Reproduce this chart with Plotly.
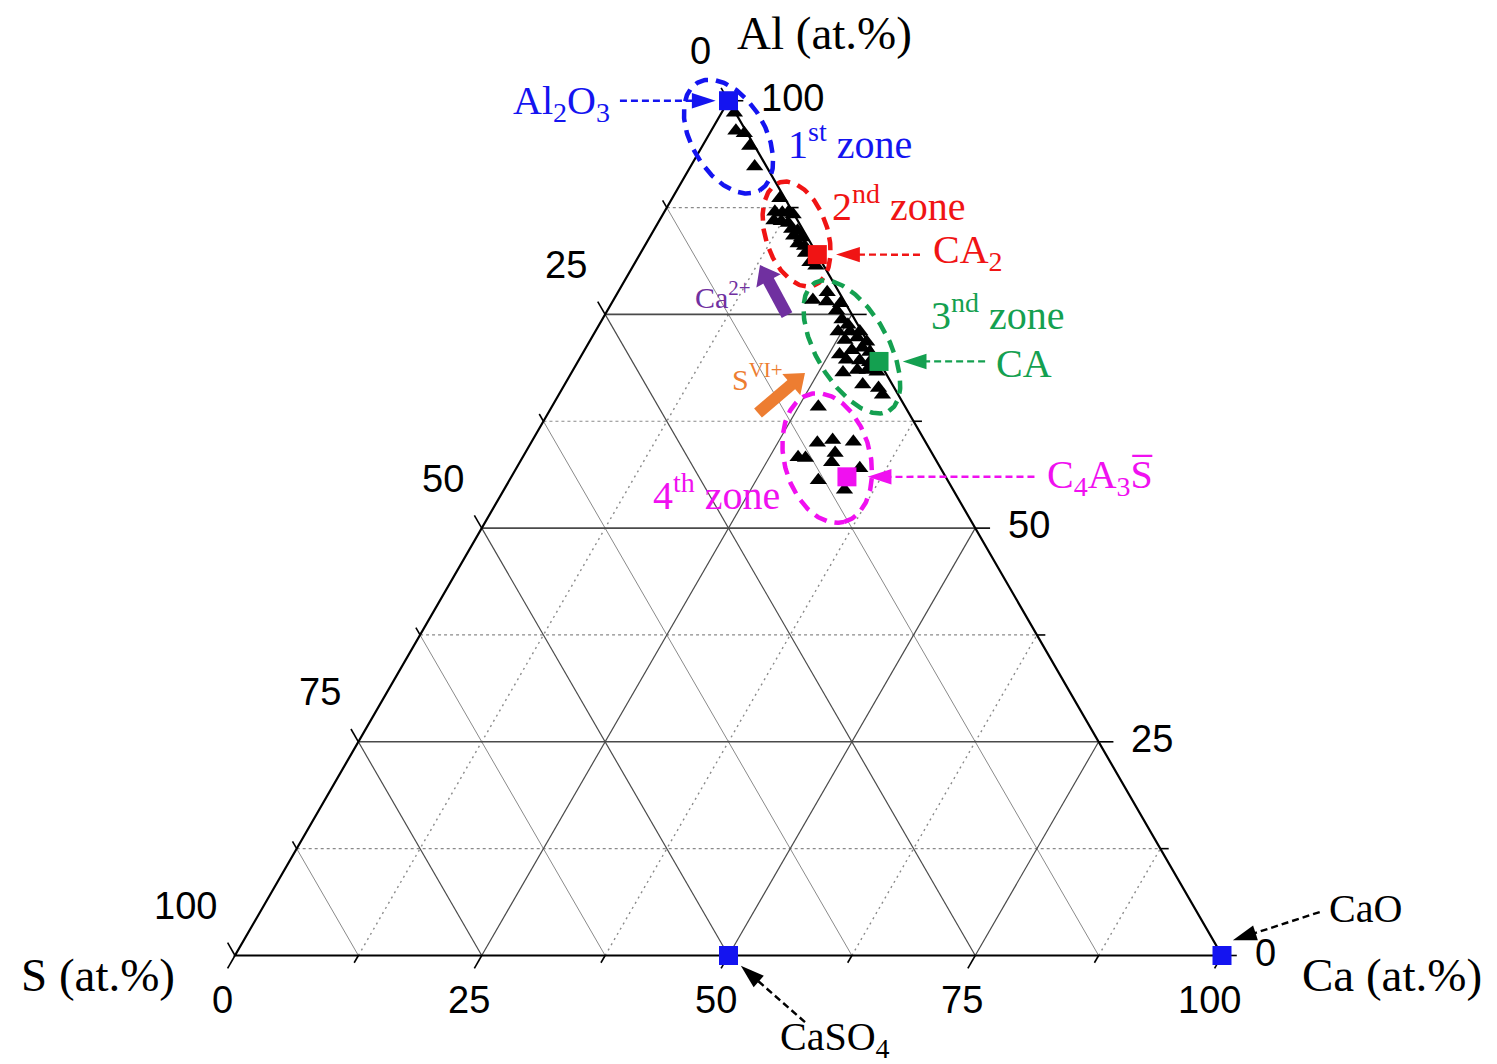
import numpy as np
import plotly.graph_objects as go

# ---------------- measured compositions (at.%) ----------------
# black triangles, grouped by zone: Al, S, Ca
zone1_al = [98.6, 96.5, 96.2, 94.7, 92.3]
zone1_s = [0.1, 1.0, 0.3, 0.5, 1.2]
zone1_ca = [1.3, 2.5, 3.5, 4.8, 6.5]

zone2_al = [88.6, 87.0, 86.9, 87.0, 86.7, 86.0, 85.9, 85.7, 85.0, 84.8, 84.2, 84.0, 83.3, 83.0, 82.2, 81.1, 80.7]
zone2_s = [0.5, 1.8, 1.1, 0.4, 0.1, 2.4, 1.7, 1.1, 1.1, 0.6, 1.3, 0.6, 1.3, 0.8, 1.1, 1.2, 0.8]
zone2_ca = [10.9, 11.2, 12.0, 12.6, 13.2, 11.6, 12.4, 13.2, 13.9, 14.6, 14.5, 15.4, 15.4, 16.2, 16.7, 17.7, 18.5]

zone3_al = [77.6, 76.7, 76.5, 76.3, 75.5, 74.4, 73.8, 73.0, 73.0, 73.0, 72.0, 72.3, 71.8, 70.3,
            70.8, 71.1, 70.6, 69.7, 69.6, 69.4, 68.2, 68.5, 68.5, 68.3, 66.8, 66.4, 65.6]
zone3_s = [1.2, 3.1, 1.8, 0.5, 1.3, 1.3, 1.0, 2.4, 1.2, 0.2, 2.2, 0.8, 0.1, 3.6,
           2.1, 0.9, 0.4, 3.2, 1.9, 1.0, 4.3, 2.7, 1.7, 0.8, 3.0, 1.6, 1.6]
zone3_ca = [21.2, 20.2, 21.7, 23.2, 23.2, 24.3, 25.2, 24.6, 25.8, 26.8, 25.8, 26.9, 28.1, 26.1,
            27.1, 28.0, 29.0, 27.1, 28.5, 29.6, 27.5, 28.8, 29.8, 30.9, 30.2, 32.0, 32.8]

zone4_al = [64.2, 60.0, 60.3, 60.1, 58.3, 58.2, 58.8, 57.7, 57.0, 55.6, 54.5]
zone4_s = [8.8, 11.0, 9.3, 7.3, 13.8, 13.1, 9.8, 10.7, 8.2, 13.1, 11.0]
zone4_ca = [27.0, 29.0, 30.4, 32.6, 27.9, 28.7, 31.4, 31.6, 34.8, 31.3, 34.5]

# reference phases
phase_names = ["Al2O3", "CA2", "CA", "C4A3S", "CaSO4", "CaO"]
phase_al = [100.0, 82.0, 69.5, 56.0, 0.0, 0.0]
phase_s = [0.0, 0.0, 0.0, 10.0, 50.0, 0.0]
phase_ca = [0.0, 18.0, 30.5, 34.0, 50.0, 100.0]

# axis ticks
major_ticks = [0, 25, 50, 75, 100]
minor_ticks = [12.5, 37.5, 62.5, 87.5]
tick_labels = ["0", "25", "50", "75", "100"]
# Al labels on the right edge (75 sits under the data and is left out)
al_label_ticks = [0, 25, 50, 100]

# ---------------- styling ----------------
SERIF = "Liberation Serif, Times New Roman, serif"
SANS = "Liberation Sans, Arial, sans-serif"
BLUE, RED, GREEN, MAGENTA = "#1414F0", "#F01414", "#14A050", "#F010F0"
PURPLE, ORANGE = "#7030A0", "#ED7D31"
phase_colors = [BLUE, RED, GREEN, MAGENTA, BLUE, BLUE]

H = np.sqrt(3) / 2
PX = 9.87               # pixels per composition unit
ORIGIN = (235.0, 955.5)  # pixel position of the S corner
W, HGT = 1497, 1064


def tern(al, s, ca):
    """Project Al/S/Ca compositions to the plane of the triangle."""
    al, s, ca = (np.asarray(v, dtype=float) for v in (al, s, ca))
    tot = al + s + ca
    return 100 * (ca + al / 2) / tot, 100 * al * H / tot


def seg_trace(segs, color, width, dash="solid"):
    xs, ys = [], []
    for (x0, y0), (x1, y1) in segs:
        xs += [x0, x1, None]
        ys += [y0, y1, None]
    return go.Scatter(x=xs, y=ys, mode="lines", hoverinfo="skip",
                      line=dict(color=color, width=width, dash=dash))


fig = go.Figure()

# ---------------- grid ----------------
def al_line(v):
    return tern(v, 100 - v, 0), tern(v, 0, 100 - v)


def s_line(v):
    return tern(100 - v, v, 0), tern(0, v, 100 - v)


def ca_line(v):
    return tern(0, 100 - v, v), tern(100 - v, 0, v)


inner_major = major_ticks[1:-1]
fig.add_trace(seg_trace([al_line(v) for v in minor_ticks], "#8a8a8a", 1.2, "3px,3px"))
fig.add_trace(seg_trace([ca_line(v) for v in minor_ticks], "#8a8a8a", 1.4, "2px,4px"))
fig.add_trace(seg_trace([s_line(v) for v in minor_ticks], "#8a8a8a", 1.0))
fig.add_trace(seg_trace([s_line(v) for v in inner_major], "#4a4a4a", 1.2))
fig.add_trace(seg_trace([ca_line(v) for v in inner_major], "#4a4a4a", 1.2))
fig.add_trace(seg_trace([al_line(v) for v in inner_major], "#4a4a4a", 1.6))

# ---------------- triangle frame ----------------
corners = [tern(100, 0, 0), tern(0, 100, 0), tern(0, 0, 100), tern(100, 0, 0)]
fig.add_trace(go.Scatter(x=[c[0] for c in corners], y=[c[1] for c in corners], mode="lines",
                         hoverinfo="skip", line=dict(color="black", width=2.2)))

# ---------------- ticks (drawn outward along each grid family) ----------------
tick_dirs = {
    "S": (-0.5, H),     # left edge
    "Ca": (-0.5, -H),   # bottom edge
    "Al": (1.0, 0.0),   # right edge
}


def edge_point(axis, v):
    if axis == "S":
        return tern(100 - v, v, 0)
    if axis == "Ca":
        return tern(0, 100 - v, v)
    return tern(v, 0, 100 - v)


tick_segs = []
for axis, (dx, dy) in tick_dirs.items():
    for v in major_ticks + minor_ticks:
        L = 1.5 if v in major_ticks else 0.85
        x0, y0 = edge_point(axis, v)
        tick_segs.append(((x0, y0), (x0 + dx * L, y0 + dy * L)))
fig.add_trace(seg_trace(tick_segs, "black", 1.6))

label_offsets = {"S": (-1.6, 5.0, "right"), "Ca": (-1.3, -4.55, "center"), "Al": (3.1, 0.3, "left")}
for axis, (ox, oy, anchor) in label_offsets.items():
    for v, txt in zip(major_ticks, tick_labels):
        if axis == "Al" and v not in al_label_ticks:
            continue
        x0, y0 = edge_point(axis, v)
        fig.add_annotation(x=float(x0 + ox), y=float(y0 + oy), text=txt, showarrow=False,
                           xanchor=anchor, yanchor="middle",
                           font=dict(family=SANS, size=38, color="black"))

# ---------------- zone ellipses ----------------
ellipses = [
    # centre (Al, S, Ca), semi-axes, tilt (deg), colour
    ((95.8, 2.1, 2.1), 6.3, 3.75, -60, BLUE),
    ((84.4, 0.9, 14.7), 5.5, 3.15, -72, RED),
    ((71.2, 1.9, 26.9), 7.5, 3.65, -60, GREEN),
    ((58.2, 10.9, 30.9), 6.7, 4.35, -75, MAGENTA),
]
t = np.linspace(0, 2 * np.pi, 240)
for (al, s, ca), a, b, ang, col in ellipses:
    cx, cy = tern(al, s, ca)
    th = np.deg2rad(ang)
    ex = cx + a * np.cos(t) * np.cos(th) - b * np.sin(t) * np.sin(th)
    ey = cy + a * np.cos(t) * np.sin(th) + b * np.sin(t) * np.cos(th)
    fig.add_trace(go.Scatter(x=ex, y=ey, mode="lines", hoverinfo="skip",
                             line=dict(color=col, width=4.5, dash="13px,8px")))

# ---------------- measured points ----------------
for al, s, ca in [(zone1_al, zone1_s, zone1_ca), (zone2_al, zone2_s, zone2_ca),
                  (zone3_al, zone3_s, zone3_ca), (zone4_al, zone4_s, zone4_ca)]:
    x, y = tern(al, s, ca)
    fig.add_trace(go.Scatter(x=x, y=y, mode="markers", hoverinfo="skip",
                             marker=dict(symbol="triangle-up", size=15, color="black")))

px_, py_ = tern(phase_al, phase_s, phase_ca)
fig.add_trace(go.Scatter(x=px_, y=py_, mode="markers", hoverinfo="skip",
                         marker=dict(symbol="square", size=19, color=phase_colors, opacity=1)))
phase_xy = {n: (float(a), float(b)) for n, a, b in zip(phase_names, px_, py_)}

# ---------------- call-out arrows ----------------
callouts = [
    # phase, tail (x, y), tip offset from phase, colour
    ("Al2O3", (39.0, 86.6), (-1.3, 0.0), BLUE),
    ("CA2", (69.4, 71.0), (1.9, 0.0), RED),
    ("CA", (76.0, 60.2), (2.4, 0.0), GREEN),
    ("C4A3S", (81.0, 48.5), (2.1, 0.0), MAGENTA),
    ("CaO", (109.9, 4.4), (1.1, 1.55), "black"),
    ("CaSO4", (57.75, -6.75), (1.25, -1.05), "black"),
]
for name, (tx, ty), (ox, oy), col in callouts:
    hx, hy = phase_xy[name]
    fig.add_trace(go.Scatter(
        x=[tx, hx + ox], y=[ty, hy + oy], mode="lines+markers", hoverinfo="skip",
        line=dict(color=col, width=2.4, dash="7px,4px"),
        marker=dict(symbol="arrow", size=[0, 25], color=col, angleref="previous",
                    opacity=1, line=dict(width=0))))

# thick trend arrows
trend_arrows = [
    ((55.93, 64.89), (53.19, 69.96), PURPLE),
    ((52.99, 54.96), (57.75, 59.02), ORANGE),
]
HEAD = 24
for (x0, y0), (x1, y1), col in trend_arrows:
    d = np.hypot(x1 - x0, y1 - y0)
    ux, uy = (x1 - x0) / d, (y1 - y0) / d
    cx, cy = x1 - ux * HEAD / 2 / PX, y1 - uy * HEAD / 2 / PX
    fig.add_trace(go.Scatter(
        x=[x0, cx], y=[y0, cy], mode="lines+markers", hoverinfo="skip",
        line=dict(color=col, width=12),
        marker=dict(symbol="triangle-up", size=[0, HEAD], color=col, angleref="previous",
                    opacity=1, line=dict(width=0))))

# ---------------- labels ----------------
labels = [
    ("Al<sub>2</sub>O<sub>3</sub>", 33.1, 86.4, 40, BLUE),
    ("1<sup>st</sup> zone", 62.3, 82.45, 40, BLUE),
    ("2<sup>nd</sup> zone", 67.3, 76.2, 40, RED),
    ("CA<sub>2</sub>", 74.3, 71.3, 40, RED),
    ("Ca<sup>2+</sup>", 49.4, 66.9, 30, PURPLE),
    ("3<sup>nd</sup> zone", 77.3, 65.1, 40, GREEN),
    ("CA", 79.9, 60.0, 40, GREEN),
    ("S<sup>VI+</sup>", 52.9, 58.6, 30, ORANGE),
    ("4<sup>th</sup> zone", 48.8, 46.9, 40, MAGENTA),
    ("C<sub>4</sub>A<sub>3</sub>S\u0305", 87.6, 48.5, 40, MAGENTA),
    ("CaO", 114.5, 4.8, 40, "black"),
    ("CaSO<sub>4</sub>", 60.8, -8.5, 40, "black"),
    ("Al (at.%)", 59.7, 93.5, 47, "black"),
    ("S (at.%)", -13.9, -2.0, 47, "black"),
    ("Ca (at.%)", 117.2, -2.0, 47, "black"),
]
for text, x, y, size, col in labels:
    fig.add_annotation(x=x, y=y, text=text, showarrow=False, xanchor="center", yanchor="middle",
                       font=dict(family=SERIF, size=size, color=col))

# ---------------- layout ----------------
x_lo = -ORIGIN[0] / PX
y_hi = ORIGIN[1] / PX
fig.update_layout(
    width=W, height=HGT, margin=dict(l=0, r=0, t=0, b=0),
    paper_bgcolor="white", plot_bgcolor="white", showlegend=False,
    xaxis=dict(visible=False, range=[x_lo, x_lo + W / PX], domain=[0, 1]),
    yaxis=dict(visible=False, range=[y_hi - HGT / PX, y_hi], domain=[0, 1]),
)
fig.write_html("out.html")
